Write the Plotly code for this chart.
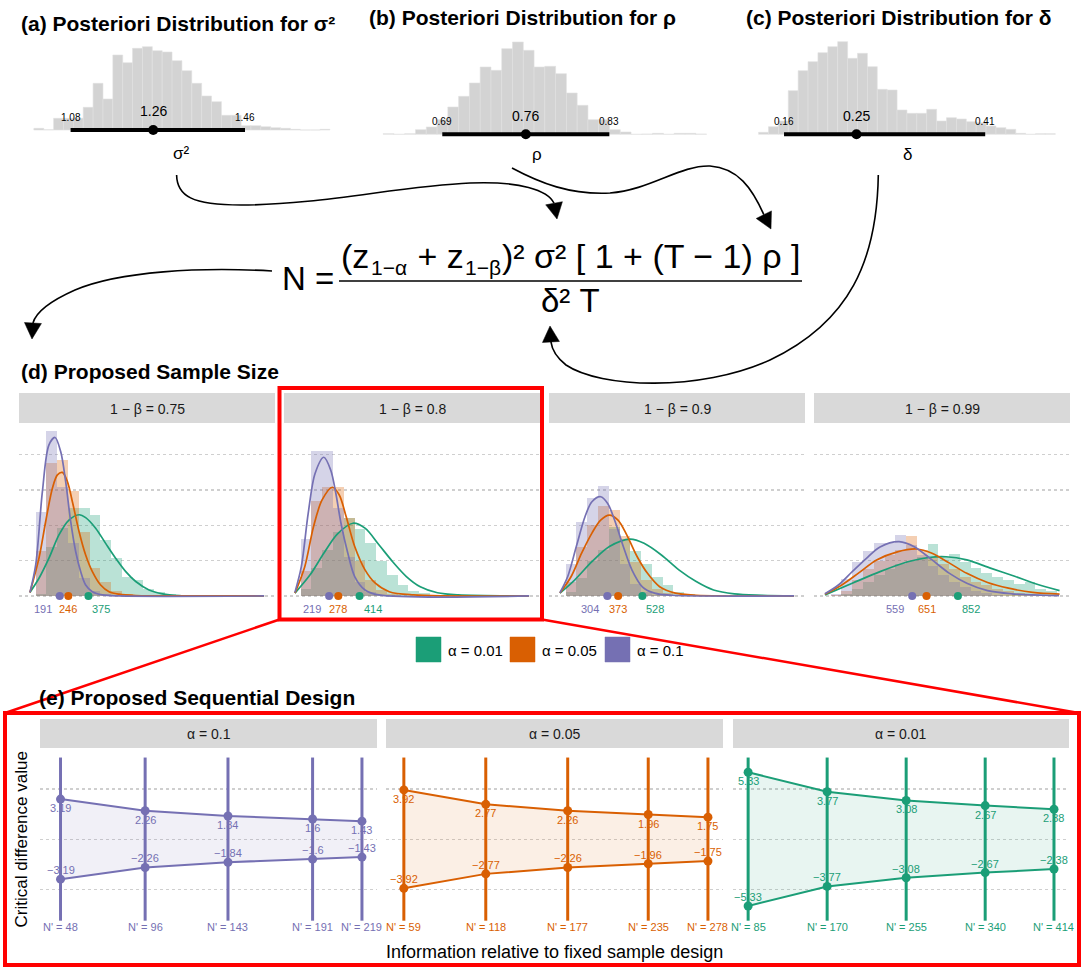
import math
import plotly.graph_objects as go

W, H = 1084, 972
FONT = "Liberation Sans, Arial, Helvetica, sans-serif"
GREEN, ORANGE, PURPLE = "#1B9E77", "#D95F02", "#7570B3"
RGB = {GREEN: (27, 158, 119), ORANGE: (217, 95, 2), PURPLE: (117, 112, 179)}


def fx(x):
    return x / W


def fy(y):
    return 1 - y / H


def rgba(c, a):
    r, g, b = RGB[c]
    return f"rgba({r},{g},{b},{a})"


# ======================= DATA =======================
# (a)-(c) posterior histograms (30 bins each)
sigma2_bin_start = 1.0
sigma2_bin_width = 0.0215
sigma2_counts = [5, 1, 35, 35, 35, 68, 140, 93, 225, 202, 245, 250, 238, 234, 208,
                 178, 140, 102, 85, 44, 44, 13, 13, 10, 7, 5, 2, 0, 0, 2]
sigma2_interval = [1.08, 1.26, 1.46]

rho_bin_start = 0.6405
rho_bin_width = 0.00903
rho_counts = [2, 0, 2, 14, 22, 44, 82, 114, 154, 202, 192, 257, 277, 252, 202,
              204, 182, 124, 87, 44, 44, 14, 7, 0, 1, 3, 0, 3, 3, 1]
rho_interval = [0.69, 0.76, 0.83]

delta_bin_start = 0.1284
delta_bin_width = 0.01229
delta_counts = [6, 23, 40, 131, 191, 218, 245, 263, 278, 228, 243, 203, 135, 133, 73,
                63, 63, 75, 40, 50, 46, 38, 35, 25, 20, 15, 3, 0, 2, 2]
delta_interval = [0.16, 0.25, 0.41]

# (d) proposed sample size
power_levels = ["0.75", "0.8", "0.9", "0.99"]
alpha_levels = ["0.01", "0.05", "0.1"]
n_bin_start = 37
n_bin_width = 69

hist_p75_a01 = [0.05, 1.4, 1.92, 2.49, 2.49, 2.3, 1.59, 1.07, 0.55, 0.45, 0.2, 0.1, 0.05]
hist_p75_a05 = [1.26, 3.76, 3.86, 2.96, 1.8, 0.8, 0.4, 0.15, 0.05]
hist_p75_a10 = [2.39, 4.66, 3.1, 1.5, 0.5, 0.15, 0.05]
hist_p80_a01 = [0.2, 0.8, 1.3, 1.8, 2.2, 1.9, 1.5, 1.0, 0.6, 0.3, 0.15, 0.07, 0.03]
hist_p80_a05 = [0.7, 2.7, 3.1, 3.1, 2.2, 1.0, 0.45, 0.18, 0.06]
hist_p80_a10 = [1.6, 4.1, 4.1, 2.5, 1.1, 0.4, 0.12, 0.04]
hist_p90_a01 = [0.1, 0.5, 1.0, 1.3, 1.96, 1.6, 1.27, 0.9, 0.55, 0.3, 0.12, 0.05]
hist_p90_a05 = [0.4, 1.4, 2.0, 2.55, 2.44, 1.7, 0.95, 0.45, 0.2, 0.07]
hist_p90_a10 = [0.9, 2.1, 2.77, 3.12, 1.9, 0.9, 0.35, 0.1, 0.03]
hist_p99_a01 = [0.0, 0.05, 0.2, 0.4, 0.6, 0.75, 0.9, 1.0, 1.1, 1.46, 1.1, 1.2, 0.95, 0.8,
                0.65, 0.55, 0.45, 0.35, 0.4, 0.2, 0.15]
hist_p99_a05 = [0.02, 0.15, 0.45, 0.75, 1.0, 1.15, 1.3, 1.7, 1.3, 1.1, 0.9, 0.75, 0.55, 0.4,
                0.3, 0.2, 0.13, 0.08, 0.05]
hist_p99_a10 = [0.05, 0.47, 0.97, 1.26, 1.49, 1.5, 1.72, 1.45, 1.15, 0.85, 0.6, 0.4, 0.25,
                0.15, 0.08, 0.04]

dens_p75_a01_n = [0, 58, 122, 186, 250, 315, 357, 421, 485, 549, 614, 678, 763, 849, 956, 1105, 1500]
dens_p75_a01_y = [0.1, 0.50, 1.07, 1.73, 2.15, 2.30, 2.22, 1.92, 1.49, 1.07, 0.69, 0.41, 0.17, 0.06, 0.01, 0, 0]
dens_p75_a05_n = [0, 58, 101, 144, 176, 208, 240, 272, 315, 357, 400, 453, 507, 571, 678, 785, 1500]
dens_p75_a05_y = [0.1, 1.07, 2.11, 3.05, 3.43, 3.50, 3.24, 2.67, 1.82, 1.16, 0.69, 0.31, 0.12, 0.05, 0.01, 0, 0]
dens_p75_a10_n = [0, 37, 80, 122, 161, 197, 229, 261, 293, 325, 357, 400, 464, 571, 1500]
dens_p75_a10_y = [0.1, 0.88, 2.96, 4.28, 4.49, 4.09, 3.24, 2.11, 1.26, 0.69, 0.31, 0.12, 0.03, 0, 0]

dens_p80_a01_n = [0, 96, 185, 273, 372, 449, 538, 626, 714, 803, 913, 1046, 1500]
dens_p80_a01_y = [0.08, 0.59, 1.21, 1.76, 2.06, 1.92, 1.45, 0.97, 0.55, 0.26, 0.09, 0.03, 0]
dens_p80_a05_n = [0, 63, 119, 174, 240, 284, 328, 383, 449, 515, 604, 758, 1500]
dens_p80_a05_y = [0.08, 0.83, 1.96, 2.72, 3.08, 2.86, 2.25, 1.40, 0.74, 0.36, 0.12, 0.03, 0]
dens_p80_a10_n = [0, 41, 85, 129, 185, 229, 262, 295, 339, 383, 449, 538, 1500]
dens_p80_a10_y = [0.1, 0.83, 2.34, 3.47, 3.93, 3.57, 2.91, 2.06, 1.21, 0.55, 0.17, 0.03, 0]

dens_p90_a01_n = [0, 94, 205, 317, 450, 539, 650, 762, 873, 984, 1117, 1296, 1500]
dens_p90_a01_y = [0.08, 0.45, 0.97, 1.40, 1.61, 1.49, 1.16, 0.74, 0.41, 0.17, 0.06, 0.02, 0]
dens_p90_a05_n = [0, 72, 139, 205, 261, 317, 372, 428, 495, 561, 639, 739, 873, 1500]
dens_p90_a05_y = [0.08, 0.55, 1.21, 1.78, 2.15, 2.29, 2.15, 1.73, 1.11, 0.64, 0.26, 0.08, 0.02, 0]
dens_p90_a10_n = [0, 50, 105, 161, 205, 261, 306, 350, 406, 461, 528, 606, 717, 1500]
dens_p90_a10_y = [0.09, 0.55, 1.40, 2.25, 2.67, 2.81, 2.62, 2.15, 1.40, 0.74, 0.26, 0.08, 0.02, 0]

dens_p99_a01_n = [0, 175, 353, 531, 664, 776, 909, 1065, 1220, 1354, 1503]
dens_p99_a01_y = [0.03, 0.36, 0.69, 0.97, 1.09, 1.11, 1.02, 0.78, 0.55, 0.34, 0.15]
dens_p99_a05_n = [0, 108, 219, 331, 464, 586, 686, 798, 909, 1042, 1176, 1331, 1503]
dens_p99_a05_y = [0.05, 0.31, 0.66, 1.02, 1.25, 1.33, 1.21, 0.93, 0.64, 0.38, 0.22, 0.10, 0.05]
dens_p99_a10_n = [0, 86, 175, 264, 353, 475, 575, 686, 798, 909, 1042, 1198, 1398, 1500]
dens_p99_a10_y = [0.06, 0.31, 0.69, 1.06, 1.39, 1.54, 1.39, 1.02, 0.64, 0.36, 0.15, 0.06, 0.02, 0.01]

median_n_a01 = [375, 414, 528, 852]
median_n_a05 = [246, 278, 373, 651]
median_n_a10 = [191, 219, 304, 559]

# (e) proposed sequential design (power 0.8)
seq_alpha_labels = ["0.1", "0.05", "0.01"]
seq_n_total = [219, 278, 414]
seq_nprime_a10 = [48, 96, 143, 191, 219]
seq_nprime_a05 = [59, 118, 177, 235, 278]
seq_nprime_a01 = [85, 170, 255, 340, 414]
seq_crit_a10 = [3.19, 2.26, 1.84, 1.6, 1.43]
seq_crit_a05 = [3.92, 2.77, 2.26, 1.96, 1.75]
seq_crit_a01 = [5.33, 3.77, 3.08, 2.67, 2.38]

# ======================= FIGURE =======================
fig = go.Figure()
annotations = []
shapes = []
layout_axes = {}


def ann(x, y, text, size=12, color="#000000", xanchor="center", yanchor="middle",
        xref="paper", yref="paper", xshift=0, yshift=0, textangle=0):
    annotations.append(dict(x=x, y=y, xref=xref, yref=yref, text=text, showarrow=False,
                            font=dict(size=size, color=color, family=FONT),
                            xanchor=xanchor, yanchor=yanchor, xshift=xshift, yshift=yshift,
                            textangle=textangle))


def axes(idx, x0, x1, y0, y1, xr, yr, grid=None):
    key = "" if idx == 1 else str(idx)
    xa = dict(domain=[fx(x0), fx(x1)], range=xr, visible=False, fixedrange=True,
              anchor=f"y{key}")
    ya = dict(domain=[fy(y1), fy(y0)], range=yr, anchor=f"x{key}", fixedrange=True,
              showticklabels=False, ticks="", showline=False, zeroline=False)
    if grid is not None:
        ya.update(showgrid=True, tickvals=grid, gridcolor="#CFCFCF", griddash="dot", gridwidth=1.2)
    else:
        ya.update(visible=False)
    layout_axes["xaxis" + key] = xa
    layout_axes["yaxis" + key] = ya
    return "x" + key, "y" + key


def rect(x0, y0, x1, y1, fill=None, line=None, lw=0, layer="below"):
    shapes.append(dict(type="rect", xref="paper", yref="paper", x0=fx(x0), x1=fx(x1),
                       y0=fy(y1), y1=fy(y0), fillcolor=fill if fill else "rgba(0,0,0,0)",
                       line=dict(color=line if line else "rgba(0,0,0,0)", width=lw),
                       layer=layer))


def P(x, y):
    return f"{fx(x):.5f},{fy(y):.5f}"


def curve(segs, color="black", width=1.6):
    d = "M " + P(*segs[0])
    for c1, c2, e in segs[1:]:
        d += " C " + P(*c1) + " " + P(*c2) + " " + P(*e)
    shapes.append(dict(type="path", xref="paper", yref="paper", path=d,
                       line=dict(color=color, width=width), layer="above"))


def arrowhead(tip, frm, L=16, hw=8.5):
    dx, dy = tip[0] - frm[0], tip[1] - frm[1]
    n = math.hypot(dx, dy)
    ux, uy = dx / n, dy / n
    bx, by = tip[0] - L * ux, tip[1] - L * uy
    px_, py_ = -uy, ux
    c1 = (bx + hw * px_, by + hw * py_)
    c2 = (bx - hw * px_, by - hw * py_)
    d = "M " + P(*c1) + " L " + P(*tip) + " L " + P(*c2) + " Z"
    shapes.append(dict(type="path", xref="paper", yref="paper", path=d,
                       fillcolor="black", line=dict(color="black", width=0.5), layer="above"))
    return (bx, by)


# ---------- top panels (a)(b)(c) ----------
tops = [
    ("<b>(a) Posteriori Distribution for σ²</b>", 23, sigma2_counts, sigma2_bin_start,
     sigma2_bin_width, sigma2_interval, [0.968, 1.677], (19.2, 344.6), 130.0,
     "σ²", (181, 153)),
    ("<b>(b) Posteriori Distribution for ρ</b>", 17, rho_counts, rho_bin_start, rho_bin_width,
     rho_interval, [0.627, 0.925], (367.1, 722.7), 134.3, "ρ", (536.7, 155)),
    ("<b>(c) Posteriori Distribution for δ</b>", 17, delta_counts, delta_bin_start, delta_bin_width,
     delta_interval, [0.110, 0.515], (743.8, 1069.7), 134.3, "δ", (907, 155)),
]
ax_i = 1
for title, ty, counts, b0, bw, interval, xr, (xl, xrp), base, lab, (lx, ly) in tops:
    top_px, bot_px = 35, 145
    yr = [(base - bot_px) * 3, (base - top_px) * 3]
    xa, ya = axes(ax_i, xl, xrp, top_px, bot_px, xr, yr)
    mids = [b0 + (i + 0.5) * bw for i in range(len(counts))]
    fig.add_trace(go.Bar(x=mids, y=counts, width=bw, xaxis=xa, yaxis=ya,
                         marker=dict(color="rgb(211,211,211)",
                                     line=dict(color="rgb(224,224,224)", width=0.6)),
                         showlegend=False, hoverinfo="skip"))
    fig.add_trace(go.Scatter(x=[interval[0], interval[2]], y=[0, 0], mode="lines",
                             line=dict(color="black", width=4), xaxis=xa, yaxis=ya,
                             showlegend=False, hoverinfo="skip"))
    fig.add_trace(go.Scatter(x=[interval[1]], y=[0], mode="markers",
                             marker=dict(color="black", size=10), xaxis=xa, yaxis=ya,
                             showlegend=False, hoverinfo="skip"))
    ann(interval[0], fy(base - 12.5), f"{interval[0]:.2f}", size=10, xref=xa)
    ann(interval[2], fy(base - 12.5), f"{interval[2]:.2f}", size=10, xref=xa)
    ann(interval[1], fy(base - 18.5), f"{interval[1]:.2f}", size=14, xref=xa)
    ann(fx(lx), fy(ly), lab, size=17)
    ann(fx(xl), fy(ty), title, size=21, xanchor="left")
    ax_i += 1

# ---------- formula (pieces so the subscripts sit at their own size) ----------
ann(fx(336), fy(279), "N =", size=33, xanchor="right")
formula_pieces = [  # (left x px, y px, text, size)
    (339.0, 256, "(z", 34),
    (368.5, 268, "1−α", 21),
    (405.5, 256, " + z", 34),
    (462.5, 268, "1−β", 21),
    (499.5, 256, ")² σ² [ 1 + (T − 1) ρ ]", 34),
]
for x_, y_, t_, s_ in formula_pieces:
    ann(fx(x_), fy(y_), t_, size=s_, xanchor="left")
ann(fx(570), fy(300), "δ² T", size=33)
shapes.append(dict(type="line", xref="paper", yref="paper", x0=fx(339), x1=fx(802),
                   y0=fy(281), y1=fy(281), line=dict(color="black", width=1.5)))

# ---------- curved arrows ----------
b1 = arrowhead((557, 219), (554, 203))
curve([(176.6, 175), ((177, 196), (192, 205), (241, 205)),
       ((320, 205), (400, 186), (470, 183)), ((520, 181), (548, 190), b1)])
b2 = arrowhead((771, 229), (762, 211))
curve([(512, 168), ((540, 183), (570, 195), (610, 193)),
       ((650, 190), (680, 165), (710, 166)), ((738, 168), (752, 188), b2)])
b3 = arrowhead((550, 326), (551, 343))
curve([(878.3, 175), ((877, 260), (850, 322), (770, 360)),
       ((700, 392), (600, 388), (566, 365)), ((557, 358), (552, 350), b3)])
b4 = arrowhead((32, 339), (33, 322))
curve([(272, 271), ((200, 267), (120, 271), (75, 290)),
       ((48, 302), (36, 312), b4)])

# ---------- (d) proposed sample size ----------
ann(fx(19), fy(372), "<b>(d) Proposed Sample Size</b>", size=21, xanchor="left")
facets_x = [(19, 275), (284, 540), (549, 805), (814, 1070)]
hists = [
    [hist_p75_a01, hist_p75_a05, hist_p75_a10],
    [hist_p80_a01, hist_p80_a05, hist_p80_a10],
    [hist_p90_a01, hist_p90_a05, hist_p90_a10],
    [hist_p99_a01, hist_p99_a05, hist_p99_a10],
]
dens = [
    [(dens_p75_a01_n, dens_p75_a01_y), (dens_p75_a05_n, dens_p75_a05_y), (dens_p75_a10_n, dens_p75_a10_y)],
    [(dens_p80_a01_n, dens_p80_a01_y), (dens_p80_a05_n, dens_p80_a05_y), (dens_p80_a10_n, dens_p80_a10_y)],
    [(dens_p90_a01_n, dens_p90_a01_y), (dens_p90_a05_n, dens_p90_a05_y), (dens_p90_a10_n, dens_p90_a10_y)],
    [(dens_p99_a01_n, dens_p99_a01_y), (dens_p99_a05_n, dens_p99_a05_y), (dens_p99_a10_n, dens_p99_a10_y)],
]
medians = [median_n_a01, median_n_a05, median_n_a10]
cols = [GREEN, ORANGE, PURPLE]
label_shift = [13, 0, -17]
for k, (x0, x1) in enumerate(facets_x):
    xa, ya = axes(ax_i, x0, x1, 423, 615, [-70, 1570], [-0.54, 4.90], grid=[0, 1, 2, 3, 4])
    ax_i += 1
    rect(x0, 393, x1, 423, fill="#D9D9D9")
    ann(fx((x0 + x1) / 2), fy(408.5), f"1 − β = {power_levels[k]}", size=14, color="#1A1A1A")
    for j in range(3):
        h = hists[k][j]
        mids = [n_bin_start + (i + 0.5) * n_bin_width for i in range(len(h))]
        fig.add_trace(go.Bar(x=mids, y=h, width=n_bin_width, xaxis=xa, yaxis=ya,
                             marker=dict(color=rgba(cols[j], 0.3), line=dict(width=0)),
                             showlegend=False, hoverinfo="skip"))
    for j in range(3):
        nn, yy = dens[k][j]
        fig.add_trace(go.Scatter(x=nn, y=yy, mode="lines", xaxis=xa, yaxis=ya,
                                 line=dict(color=cols[j], width=1.7, shape="spline", smoothing=0.9),
                                 showlegend=False, hoverinfo="skip"))
    for j in [2, 1, 0]:
        m = medians[j][k]
        fig.add_trace(go.Scatter(x=[m], y=[0], mode="markers", xaxis=xa, yaxis=ya,
                                 marker=dict(color=cols[j], size=8),
                                 showlegend=False, hoverinfo="skip"))
        ann(m, fy(608.5), str(m), size=11, color=cols[j], xref=xa, xshift=label_shift[j])

# legend
leg = [(416, GREEN, "α = 0.01"), (510, ORANGE, "α = 0.05"), (605, PURPLE, "α = 0.1")]
for lx, c, t in leg:
    rect(lx, 637, lx + 25, 662, fill=c, line=c, lw=0.5, layer="above")
    ann(fx(lx + 30), fy(650), t, size=15, xanchor="left")

# red boxes and connectors
rect(279.5, 388, 542, 619.5, line="#FF0000", lw=4, layer="above")
rect(5, 713, 1079, 965, line="#FF0000", lw=4, layer="above")
shapes.append(dict(type="line", xref="paper", yref="paper", x0=fx(279.5), y0=fy(619.5),
                   x1=fx(5), y1=fy(713), line=dict(color="#FF0000", width=2.5)))
shapes.append(dict(type="line", xref="paper", yref="paper", x0=fx(542), y0=fy(619.5),
                   x1=fx(1079), y1=fy(713), line=dict(color="#FF0000", width=2.5)))

# ---------- (e) proposed sequential design ----------
ann(fx(37), fy(697), "<b>(e) Proposed Sequential Design</b>", size=21, xanchor="left")
panels_x = [(40, 377), (386, 723), (733, 1069)]
seq_np = [seq_nprime_a10, seq_nprime_a05, seq_nprime_a01]
seq_cr = [seq_crit_a10, seq_crit_a05, seq_crit_a01]
seq_cols = [PURPLE, ORANGE, GREEN]
for k, (x0, x1) in enumerate(panels_x):
    xa, ya = axes(ax_i, x0, x1, 748, 937, [0.166, 1.039], [-7.8, 7.26], grid=[-4, 0, 4])
    ax_i += 1
    rect(x0, 719, x1, 748, fill="#D9D9D9")
    ann(fx((x0 + x1) / 2), fy(733.5), f"α = {seq_alpha_labels[k]}", size=14, color="#1A1A1A")
    c = seq_cols[k]
    frac = [n / seq_n_total[k] for n in seq_np[k]]
    up = seq_cr[k]
    lo = [-v for v in up]
    fig.add_trace(go.Scatter(x=frac + frac[::-1], y=up + lo[::-1], fill="toself",
                             fillcolor=rgba(c, 0.1), line=dict(width=0), mode="lines",
                             xaxis=xa, yaxis=ya, showlegend=False, hoverinfo="skip"))
    vx, vy = [], []
    for f in frac:
        vx += [f, f, None]
        vy += [-6.5, 6.5, None]
    fig.add_trace(go.Scatter(x=vx, y=vy, mode="lines", line=dict(color=c, width=3),
                             xaxis=xa, yaxis=ya, showlegend=False, hoverinfo="skip"))
    for ys in (up, lo):
        fig.add_trace(go.Scatter(x=frac, y=ys, mode="lines+markers",
                                 line=dict(color=c, width=2), marker=dict(color=c, size=9),
                                 xaxis=xa, yaxis=ya, showlegend=False, hoverinfo="skip"))
    for f, v, n in zip(frac, up, seq_np[k]):
        ann(f, v, f"{v:g}", size=11, color=c, xref=xa, yref=ya, yshift=-9)
        ann(f, -v, f"−{v:g}", size=11, color=c, xref=xa, yref=ya, yshift=9)
        ann(f, -7.0, f"N' = {n}", size=11, color=c, xref=xa, yref=ya)

ann(fx(20.5), fy(840), "Critical difference value", size=17, textangle=-90)
ann(fx(554), fy(952), "Information relative to fixed sample design", size=18)

fig.update_layout(
    width=W, height=H, margin=dict(l=0, r=0, t=0, b=0),
    paper_bgcolor="white", plot_bgcolor="white", barmode="overlay", bargap=0,
    showlegend=False, font=dict(family=FONT, color="black"),
    annotations=annotations, shapes=shapes, **layout_axes,
)
fig.write_html("out.html", config={"displayModeBar": False, "staticPlot": True},
               post_script="document.body.style.margin='0';document.body.style.padding='0';"
                           "document.body.style.overflow='hidden';")
